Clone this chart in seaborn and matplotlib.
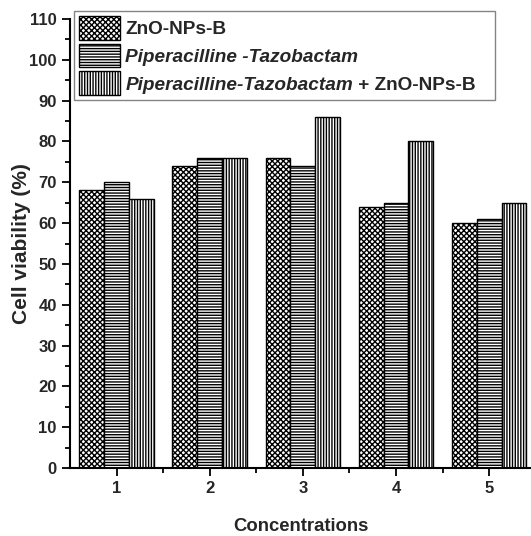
import matplotlib
matplotlib.use("Agg")
import matplotlib.pyplot as plt
import seaborn as sns
import pandas as pd
from matplotlib.patches import Patch
from matplotlib.ticker import MultipleLocator, FixedLocator

concentrations = ["1", "2", "3", "4", "5"]
series_names = ["ZnO-NPs-B", "Piperacilline -Tazobactam", "Piperacilline-Tazobactam + ZnO-NPs-B"]
zno = [68, 74, 76, 64, 60]
pip = [70, 76, 74, 65, 61]
combo = [66, 76, 86, 80, 65]
hatches = ["xxxxxx", "------", "||||||"]

rows = []
for name, vals in zip(series_names, [zno, pip, combo]):
    for c, v in zip(concentrations, vals):
        rows.append({"Concentrations": c, "series": name, "value": v})
df = pd.DataFrame(rows)

sns.set_style("ticks")
plt.rcParams["font.family"] = ["Liberation Sans", "DejaVu Sans"]
plt.rcParams["hatch.linewidth"] = 1.0
plt.rcParams["hatch.color"] = "#222222"

fig = plt.figure(figsize=(5.31, 5.36), dpi=100)
ax = fig.add_axes([70/531, 1-468/536, 1-70/531, (468-19)/536])

sns.barplot(data=df, x="Concentrations", y="value", hue="series",
            hue_order=series_names, order=concentrations,
            palette=["white"]*3, edgecolor="black", linewidth=1.0,
            saturation=1, width=0.8, legend=False, ax=ax)

for cont, h in zip(ax.containers, hatches):
    for bar in cont:
        bar.set_hatch(h)
        bar.set_edgecolor("black")
        bar.set_facecolor("white")

ax.set_ylim(0, 110)
ax.set_xlim(-0.5, 4.45)
ax.yaxis.set_major_locator(MultipleLocator(10))
ax.yaxis.set_minor_locator(MultipleLocator(5))
ax.xaxis.set_minor_locator(FixedLocator([0.5, 1.5, 2.5, 3.5]))
ax.tick_params(axis="both", which="major", direction="out", length=6, width=1.3,
               labelsize=12, color="black")
ax.tick_params(axis="both", which="minor", direction="out", length=3.5, width=1.3, color="black")
for lab in ax.get_xticklabels() + ax.get_yticklabels():
    lab.set_fontweight("bold")

for s in ["top", "right"]:
    ax.spines[s].set_visible(False)
for s in ["left", "bottom"]:
    ax.spines[s].set_linewidth(1.5)
    ax.spines[s].set_color("black")

ax.set_xlabel("Concentrations", fontsize=13.3, fontweight="bold", labelpad=16)
ax.set_ylabel("Cell viability (%)", fontsize=15, fontweight="bold", labelpad=-1)

handles = [Patch(facecolor="white", edgecolor="black", hatch=h, linewidth=1.0) for h in hatches]
labels = [series_names[0], series_names[1], "Piperacilline-Tazobactam"]
fs = 13.7
leg = ax.legend(handles, labels, loc="upper left", mode="expand",
                bbox_to_anchor=(74/531, 1-99/536, (495-74)/531, 88/536),
                bbox_transform=fig.transFigure,
                borderaxespad=0, fontsize=fs, handlelength=2.15, handleheight=1.56,
                labelspacing=0.2, handletextpad=0.3, borderpad=0.25,
                frameon=True, fancybox=False, edgecolor="#666666")
leg.get_frame().set_linewidth(1.0)
texts = leg.get_texts()
texts[0].set_fontweight("bold")
texts[1].set_fontweight("bold")
texts[1].set_fontstyle("italic")
texts[2].set_fontweight("bold")
texts[2].set_fontstyle("italic")
fig.canvas.draw()
ann = ax.annotate(" + ZnO-NPs-B", xy=(1, 0), xycoords=texts[2],
                  va="bottom", ha="left", fontsize=fs, fontweight="bold",
                  annotation_clip=False)
ann.set_zorder(10)

fig.savefig("out.png", dpi=100)
